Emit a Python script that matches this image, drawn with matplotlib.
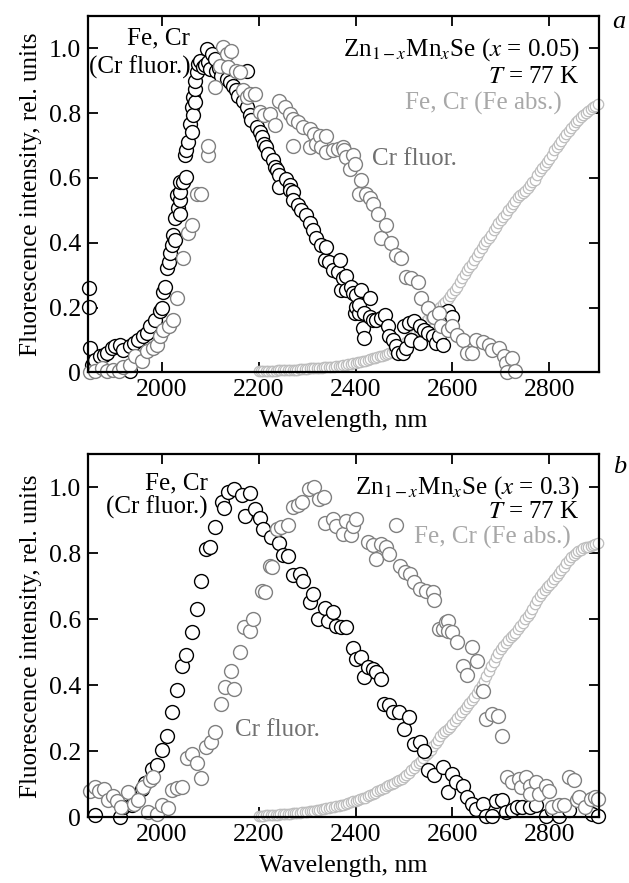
import matplotlib
matplotlib.use("Agg")
import matplotlib.pyplot as plt
from matplotlib.ticker import FixedLocator, FixedFormatter

plt.rcParams['font.family'] = ['Liberation Serif', 'DejaVu Serif']
plt.rcParams['mathtext.fontset'] = 'stix'

# ---------------- data: panel a (x = 0.05) ----------------
a_fl_x = [1849, 1849, 1852, 1856, 1863, 1873, 1880, 1887, 1897, 1904, 1914, 1921, 1935, 1935,
          1942, 1952, 1962, 1969, 1976, 1986, 1996, 2000, 2003, 2007, 2010, 2014, 2017, 2021,
          2024, 2027, 2027, 2031, 2034, 2038, 2038, 2038, 2038, 2044, 2048, 2051, 2051, 2055,
          2058, 2062, 2062, 2065, 2065, 2068, 2068, 2068, 2072, 2075, 2080, 2086, 2090, 2093,
          2096, 2099, 2103, 2110, 2113, 2118, 2123, 2134, 2140, 2147, 2154, 2158, 2168, 2175,
          2175, 2182, 2185, 2196, 2202, 2206, 2212, 2216, 2219, 2230, 2233, 2237, 2243, 2243,
          2257, 2264, 2264, 2271, 2271, 2281, 2288, 2298, 2305, 2312, 2319, 2329, 2336, 2340,
          2346, 2353, 2363, 2367, 2370, 2374, 2381, 2381, 2391, 2394, 2398, 2401, 2401, 2408,
          2408, 2412, 2415, 2418, 2418, 2429, 2429, 2435, 2442, 2453, 2460, 2466, 2470, 2477,
          2484, 2487, 2497, 2501, 2504, 2511, 2514, 2521, 2532, 2532, 2542, 2549, 2559, 2566,
          2573, 2580, 2583, 2586, 2590, 2600]
a_fl_y = [0.26, 0.203, 0.075, 0.024, 0.039, 0.049, 0.054, 0.06, 0.075, 0.08, 0.085, 0.07, 0.08, 0.005,
          0.09, 0.101, 0.111, 0.121, 0.142, 0.162, 0.188, 0.198, 0.249, 0.265, 0.321, 0.342, 0.367, 0.393,
          0.424, 0.408, 0.475, 0.547, 0.506, 0.49, 0.531, 0.557, 0.588, 0.588, 0.67, 0.603, 0.685, 0.711,
          0.767, 0.742, 0.818, 0.793, 0.849, 0.834, 0.875, 0.90, 0.926, 0.952, 0.96, 0.942, 0.95, 0.998,
          0.957, 0.937, 0.983, 0.967, 0.931, 0.94, 0.916, 0.906, 0.895, 0.885, 0.87, 0.854, 0.839, 0.818,
          0.931, 0.793, 0.778, 0.757, 0.742, 0.726, 0.706, 0.695, 0.675, 0.654, 0.634, 0.624, 0.608, 0.572,
          0.598, 0.578, 0.562, 0.557, 0.531, 0.516, 0.50, 0.485, 0.46, 0.439, 0.414, 0.393, 0.347, 0.388,
          0.342, 0.316, 0.311, 0.347, 0.254, 0.29, 0.254, 0.296, 0.265, 0.244, 0.183, 0.203, 0.239, 0.183,
          0.208, 0.254, 0.137, 0.106, 0.183, 0.229, 0.172, 0.162, 0.162, 0.167, 0.178, 0.142, 0.111, 0.101,
          0.08, 0.06, 0.06, 0.142, 0.075, 0.152, 0.101, 0.157, 0.142, 0.09, 0.131, 0.121, 0.111, 0.09,
          0.111, 0.085, 0.183, 0.162, 0.188, 0.172]

a_cr_x = [1852, 1863, 1876, 1887, 1900, 1911, 1921, 1935, 1945, 1959, 1969, 1983, 1990, 1996,
          2003, 2014, 2024, 2031, 2044, 2055, 2062, 2072, 2082, 2096, 2096, 2110, 2120, 2127,
          2134, 2137, 2144, 2154, 2161, 2168, 2175, 2182, 2192, 2202, 2212, 2223, 2233, 2243,
          2254, 2264, 2271, 2271, 2281, 2291, 2305, 2305, 2315, 2319, 2326, 2329, 2340, 2340,
          2353, 2363, 2374, 2377, 2381, 2388, 2394, 2398, 2408, 2412, 2422, 2429, 2435, 2446,
          2453, 2463, 2473, 2484, 2494, 2504, 2514, 2528, 2535, 2549, 2562, 2573, 2576, 2590,
          2600, 2610, 2621, 2631, 2641, 2648, 2662, 2676, 2682, 2696, 2706, 2710, 2713, 2723, 2730]
a_cr_y = [0.0, 0.003, 0.014, 0.003, 0.008, 0.003, 0.018, 0.024, 0.049, 0.034, 0.065, 0.075, 0.085, 0.111,
          0.131, 0.142, 0.162, 0.229, 0.352, 0.429, 0.454, 0.552, 0.552, 0.67, 0.70, 0.88, 0.947, 1.003,
          0.983, 0.942, 0.993, 0.931, 0.926, 0.87, 0.849, 0.86, 0.86, 0.803, 0.793, 0.798, 0.762, 0.839,
          0.818, 0.798, 0.783, 0.70, 0.772, 0.757, 0.752, 0.695, 0.737, 0.706, 0.731, 0.695, 0.731, 0.68,
          0.685, 0.69, 0.695, 0.685, 0.665, 0.629, 0.67, 0.644, 0.552, 0.593, 0.552, 0.537, 0.521, 0.49,
          0.414, 0.454, 0.398, 0.362, 0.352, 0.295, 0.29, 0.28, 0.229, 0.198, 0.172, 0.183, 0.142, 0.131,
          0.142, 0.116, 0.101, 0.06, 0.06, 0.101, 0.095, 0.085, 0.07, 0.075, 0.049, 0.029, 0.0, 0.044, 0.003]

a_abs_x = [2200, 2205, 2210, 2215, 2220, 2225, 2230, 2235, 2240, 2245, 2250, 2255, 2260, 2265, 2270,
           2275, 2280, 2285, 2290, 2295, 2300, 2305, 2310, 2315, 2320, 2325, 2330, 2335, 2340, 2345,
           2350, 2355, 2360, 2365, 2370, 2375, 2380, 2385, 2390, 2395, 2400, 2405, 2410, 2415, 2420,
           2425, 2430, 2435, 2440, 2445, 2450, 2455, 2460, 2465, 2470, 2475, 2480, 2485, 2490, 2495,
           2500, 2505, 2510, 2515, 2520, 2525, 2530, 2535, 2540, 2545, 2550, 2555, 2560, 2565, 2570,
           2575, 2580, 2585, 2590, 2595, 2600, 2605, 2610, 2615, 2620, 2625, 2630, 2635, 2640, 2645,
           2650, 2655, 2660, 2665, 2670, 2675, 2680, 2685, 2690, 2695, 2700, 2705, 2710, 2715, 2720,
           2725, 2730, 2735, 2740, 2745, 2750, 2755, 2760, 2765, 2770, 2775, 2780, 2785, 2790, 2795,
           2800, 2805, 2810, 2815, 2820, 2825, 2830, 2835, 2840, 2845, 2850, 2855, 2860, 2865, 2870,
           2875, 2880, 2885, 2890, 2895, 2900]
a_abs_y = [0.003, 0.004, 0.004, 0.005, 0.005, 0.004, 0.004, 0.005, 0.006, 0.006, 0.006, 0.007, 0.007, 0.008, 0.008,
           0.008, 0.008, 0.009, 0.010, 0.011, 0.011, 0.012, 0.012, 0.013, 0.013, 0.014, 0.015, 0.016, 0.016, 0.017,
           0.017, 0.018, 0.019, 0.020, 0.021, 0.023, 0.024, 0.026, 0.027, 0.029, 0.030, 0.032, 0.033, 0.035, 0.036,
           0.038, 0.040, 0.043, 0.045, 0.048, 0.050, 0.052, 0.055, 0.058, 0.060, 0.064, 0.068, 0.073, 0.078, 0.083,
           0.088, 0.094, 0.100, 0.108, 0.115, 0.122, 0.130, 0.140, 0.150, 0.158, 0.165, 0.172, 0.180, 0.188, 0.195,
           0.203, 0.210, 0.218, 0.225, 0.235, 0.245, 0.255, 0.265, 0.278, 0.290, 0.303, 0.315, 0.325, 0.335, 0.348,
           0.360, 0.372, 0.385, 0.395, 0.405, 0.415, 0.425, 0.438, 0.450, 0.460, 0.470, 0.480, 0.490, 0.500, 0.510,
           0.520, 0.530, 0.540, 0.548, 0.554, 0.560, 0.569, 0.578, 0.587, 0.595, 0.608, 0.620, 0.630, 0.640, 0.650,
           0.660, 0.672, 0.685, 0.695, 0.705, 0.715, 0.725, 0.735, 0.745, 0.755, 0.765, 0.772, 0.780, 0.788, 0.795,
           0.802, 0.808, 0.813, 0.818, 0.823, 0.828]

# ---------------- data: panel b (x = 0.3) ----------------
b_fl_x = [1863, 1913, 1921, 1938, 1949, 1959, 1966, 1979, 1991, 2000, 2010, 2021, 2031, 2041,
          2051, 2062, 2072, 2082, 2091, 2099, 2110, 2124, 2128, 2137, 2149, 2165, 2171, 2182,
          2192, 2202, 2209, 2226, 2242, 2250, 2260, 2271, 2285, 2291, 2305, 2312, 2322, 2336,
          2343, 2353, 2360, 2370, 2381, 2394, 2401, 2412, 2418, 2425, 2435, 2442, 2453, 2459,
          2470, 2477, 2490, 2501, 2511, 2521, 2532, 2542, 2549, 2562, 2580, 2590, 2600, 2607,
          2621, 2631, 2641, 2648, 2662, 2669, 2682, 2689, 2703, 2710, 2723, 2734, 2744, 2761,
          2772, 2792, 2806, 2820, 2840, 2874, 2888, 2900]
b_fl_y = [0.008, 0.0, 0.031, 0.036, 0.056, 0.086, 0.105, 0.145, 0.157, 0.205, 0.246, 0.319, 0.387, 0.457,
          0.492, 0.561, 0.630, 0.715, 0.814, 0.819, 0.879, 0.955, 0.937, 0.987, 0.995, 0.977, 0.913, 0.983,
          0.933, 0.907, 0.874, 0.849, 0.832, 0.795, 0.793, 0.733, 0.738, 0.715, 0.652, 0.677, 0.602, 0.634,
          0.596, 0.622, 0.581, 0.576, 0.576, 0.513, 0.48, 0.485, 0.425, 0.455, 0.45, 0.44, 0.42, 0.344,
          0.339, 0.319, 0.319, 0.268, 0.304, 0.223, 0.228, 0.202, 0.142, 0.127, 0.152, 0.076, 0.132, 0.107,
          0.096, 0.061, 0.041, 0.026, 0.041, 0.005, 0.005, 0.048, 0.051, 0.016, 0.021, 0.031, 0.031, 0.031,
          0.036, 0.005, 0.021, 0.005, 0.021, 0.036, 0.011, 0.005]

b_cr_x = [1852, 1863, 1870, 1880, 1890, 1900, 1907, 1917, 1931, 1942, 1952, 1962, 1972, 1976,
          1983, 1991, 2000, 2012, 2021, 2031, 2041, 2053, 2062, 2072, 2082, 2091, 2101, 2110,
          2123, 2130, 2142, 2149, 2161, 2170, 2182, 2188, 2206, 2213, 2223, 2228, 2237, 2247,
          2260, 2271, 2281, 2290, 2303, 2314, 2324, 2334, 2336, 2353, 2360, 2374, 2381, 2391,
          2394, 2401, 2425, 2435, 2442, 2453, 2463, 2470, 2484, 2491, 2503, 2512, 2521, 2532,
          2545, 2559, 2562, 2573, 2580, 2586, 2590, 2590, 2600, 2610, 2621, 2631, 2641, 2651,
          2662, 2669, 2682, 2693, 2703, 2713, 2723, 2737, 2741, 2751, 2761, 2761, 2772, 2778,
          2792, 2799, 2806, 2820, 2830, 2840, 2850, 2857, 2861, 2874, 2885, 2895, 2900]
b_cr_y = [0.081, 0.092, 0.081, 0.086, 0.051, 0.066, 0.048, 0.031, 0.076, 0.041, 0.051, 0.092, 0.016, 0.112,
          0.122, 0.011, 0.036, 0.028, 0.084, 0.088, 0.092, 0.179, 0.192, 0.165, 0.119, 0.213, 0.228, 0.258,
          0.344, 0.395, 0.442, 0.389, 0.501, 0.576, 0.566, 0.600, 0.687, 0.682, 0.763, 0.758, 0.874, 0.879,
          0.886, 0.94, 0.947, 0.955, 0.995, 1.0, 0.965, 0.97, 0.892, 0.905, 0.884, 0.859, 0.899, 0.854,
          0.884, 0.905, 0.834, 0.824, 0.783, 0.829, 0.819, 0.798, 0.886, 0.763, 0.743, 0.738, 0.713, 0.692,
          0.687, 0.682, 0.657, 0.571, 0.571, 0.592, 0.596, 0.566, 0.561, 0.531, 0.46, 0.43, 0.516, 0.475,
          0.384, 0.298, 0.314, 0.308, 0.246, 0.122, 0.107, 0.117, 0.092, 0.122, 0.096, 0.071, 0.107, 0.071,
          0.096, 0.081, 0.031, 0.036, 0.036, 0.122, 0.112, 0.051, 0.061, 0.031, 0.056, 0.061, 0.056]

b_abs_x = [2200, 2205, 2210, 2215, 2220, 2225, 2230, 2235, 2240, 2245, 2250, 2255, 2260, 2265, 2270,
           2275, 2280, 2285, 2290, 2295, 2300, 2305, 2310, 2315, 2320, 2325, 2330, 2335, 2340, 2345,
           2350, 2355, 2360, 2365, 2370, 2375, 2380, 2385, 2390, 2395, 2400, 2405, 2410, 2415, 2420,
           2425, 2430, 2435, 2440, 2445, 2450, 2455, 2460, 2465, 2470, 2475, 2480, 2485, 2490, 2495,
           2500, 2505, 2510, 2515, 2520, 2525, 2530, 2535, 2540, 2545, 2550, 2555, 2560, 2565, 2570,
           2575, 2580, 2585, 2590, 2595, 2600, 2605, 2610, 2615, 2620, 2625, 2630, 2635, 2640, 2645,
           2650, 2655, 2660, 2665, 2670, 2675, 2680, 2685, 2690, 2695, 2700, 2705, 2710, 2715, 2720,
           2725, 2730, 2735, 2740, 2745, 2750, 2755, 2760, 2765, 2770, 2775, 2780, 2785, 2790, 2795,
           2800, 2805, 2810, 2815, 2820, 2825, 2830, 2835, 2840, 2845, 2850, 2855, 2860, 2865, 2870,
           2875, 2880, 2885, 2890, 2895, 2900]
b_abs_y = [0.005, 0.005, 0.005, 0.006, 0.006, 0.007, 0.007, 0.008, 0.008, 0.009, 0.009, 0.010, 0.010, 0.011, 0.012,
           0.013, 0.013, 0.014, 0.015, 0.016, 0.017, 0.018, 0.019, 0.020, 0.021, 0.023, 0.024, 0.026, 0.027, 0.029,
           0.030, 0.032, 0.033, 0.035, 0.036, 0.038, 0.040, 0.043, 0.045, 0.048, 0.050, 0.053, 0.055, 0.058, 0.060,
           0.064, 0.067, 0.071, 0.075, 0.079, 0.082, 0.086, 0.090, 0.094, 0.098, 0.102, 0.105, 0.109, 0.112, 0.117,
           0.122, 0.128, 0.135, 0.142, 0.150, 0.158, 0.165, 0.172, 0.180, 0.188, 0.195, 0.205, 0.215, 0.225, 0.235,
           0.245, 0.255, 0.262, 0.268, 0.275, 0.282, 0.291, 0.300, 0.310, 0.320, 0.329, 0.338, 0.346, 0.355, 0.366,
           0.378, 0.389, 0.400, 0.414, 0.428, 0.444, 0.460, 0.472, 0.485, 0.498, 0.510, 0.519, 0.528, 0.536, 0.545,
           0.552, 0.560, 0.570, 0.580, 0.590, 0.600, 0.610, 0.620, 0.632, 0.645, 0.658, 0.672, 0.681, 0.690, 0.698,
           0.705, 0.713, 0.722, 0.731, 0.740, 0.750, 0.760, 0.770, 0.780, 0.788, 0.795, 0.801, 0.807, 0.811, 0.815,
           0.818, 0.820, 0.823, 0.826, 0.828, 0.830]

x_ticks = [2000, 2200, 2400, 2600, 2800]
x_ticklabels = ['2000', '2200', '2400', '2600', '2800']
y_ticks = [0, 0.2, 0.4, 0.6, 0.8, 1.0]
y_ticklabels = ['0', '0.2', '0.4', '0.6', '0.8', '1.0']

C_BLACK = '#000000'
C_GRAY = '#808080'
C_LIGHT = '#bdbdbd'
FS = 18

fig = plt.figure(figsize=(6.29, 8.83), dpi=100)
ax_a = fig.add_axes([0.140, 0.5783, 0.812, 0.4036])
ax_b = fig.add_axes([0.140, 0.0744, 0.812, 0.4111])


def style(ax):
    ax.set_xlim(1848, 2902)
    ax.set_ylim(0, 1.1)
    ax.xaxis.set_major_locator(FixedLocator(x_ticks))
    ax.xaxis.set_major_formatter(FixedFormatter(x_ticklabels))
    ax.yaxis.set_major_locator(FixedLocator(y_ticks))
    ax.yaxis.set_major_formatter(FixedFormatter(y_ticklabels))
    ax.tick_params(direction='in', length=7, width=1.3, top=True, right=True,
                   labelsize=FS + 0.5, pad=5)
    for s in ax.spines.values():
        s.set_linewidth(1.6)
    ax.set_xlabel('Wavelength, nm', fontsize=FS + 0.5, labelpad=6)
    ax.set_ylabel('Fluorescence intensity, rel. units', fontsize=FS, labelpad=5)


def draw(ax, fx, fy, cx, cy, ax_x, ax_y):
    ax.plot(ax_x, ax_y, ls='none', marker='o', ms=7.5, mfc='white', mec=C_LIGHT, mew=0.9, clip_on=False)
    ax.plot(fx, fy, ls='none', marker='o', ms=10, mfc='white', mec=C_BLACK, mew=1.0, clip_on=False)
    ax.plot(cx, cy, ls='none', marker='o', ms=10, mfc='white', mec=C_GRAY, mew=1.0, clip_on=False)


draw(ax_a, a_fl_x, a_fl_y, a_cr_x, a_cr_y, a_abs_x, a_abs_y)
draw(ax_b, b_fl_x, b_fl_y, b_cr_x, b_cr_y, b_abs_x, b_abs_y)
style(ax_a)
style(ax_b)

# panel a annotations
ax_a.text(0.200, 0.936, 'Fe, Cr', transform=ax_a.transAxes, ha='right', va='center', fontsize=FS)
ax_a.text(0.200, 0.857, '(Cr fluor.)', transform=ax_a.transAxes, ha='right', va='center', fontsize=FS)
ax_a.text(0.963, 0.907, r'Zn$_{1-x}$Mn$_x$Se ($x$ = 0.05)', transform=ax_a.transAxes,
          ha='right', va='center', fontsize=FS)
ax_a.text(0.963, 0.83, r'$T$ = 77 K', transform=ax_a.transAxes, ha='right', va='center', fontsize=FS)
ax_a.text(0.928, 0.755, 'Fe, Cr (Fe abs.)', transform=ax_a.transAxes, ha='right', va='center',
          fontsize=FS, color='#a8a8a8')
ax_a.text(0.556, 0.598, 'Cr fluor.', transform=ax_a.transAxes, ha='left', va='center',
          fontsize=FS, color='#707070')
fig.text(619 / 629, 1 - 22 / 883, 'a', ha='center', va='center', fontsize=FS + 1, style='italic')

# panel b annotations
ax_b.text(0.235, 0.92, 'Fe, Cr', transform=ax_b.transAxes, ha='right', va='center', fontsize=FS)
ax_b.text(0.235, 0.855, '(Cr fluor.)', transform=ax_b.transAxes, ha='right', va='center', fontsize=FS)
ax_b.text(0.963, 0.907, r'Zn$_{1-x}$Mn$_x$Se ($x$ = 0.3)', transform=ax_b.transAxes,
          ha='right', va='center', fontsize=FS)
ax_b.text(0.963, 0.84, r'$T$ = 77 K', transform=ax_b.transAxes, ha='right', va='center', fontsize=FS)
ax_b.text(0.946, 0.77, 'Fe, Cr (Fe abs.)', transform=ax_b.transAxes, ha='right', va='center',
          fontsize=FS, color='#a8a8a8')
ax_b.text(0.288, 0.240, 'Cr fluor.', transform=ax_b.transAxes, ha='left', va='center',
          fontsize=FS, color='#707070')
fig.text(620 / 629, 1 - 467 / 883, 'b', ha='center', va='center', fontsize=FS + 1, style='italic')

fig.savefig('out.png', dpi=100)
